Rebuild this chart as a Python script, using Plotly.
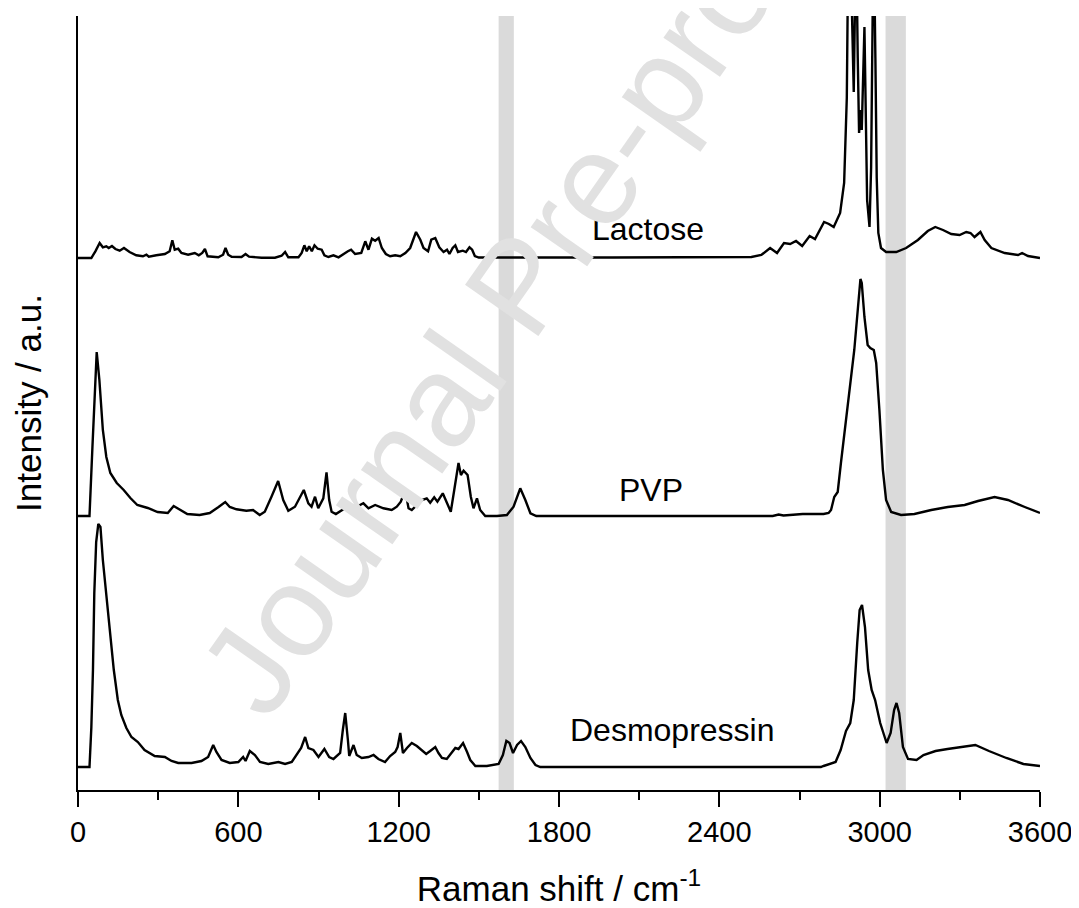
import plotly.graph_objects as go

# ==========================================
# 1. DATOS
# ==========================================

# Lactosa
lac_x = [0, 50, 65, 81, 93, 106, 115, 127, 140, 156, 172, 193, 218, 243, 256, 265, 293, 325, 343, 353,
         362, 375, 387, 412, 437, 452, 465, 475, 485, 525, 543, 552, 562, 575, 612, 627, 640, 687, 737, 762,
         775, 787, 825, 837, 847, 856, 865, 875, 885, 897, 912, 922, 937, 956, 975, 993, 1010, 1022, 1037, 1060,
         1075, 1087, 1100, 1112, 1125, 1137, 1152, 1168, 1187, 1206, 1225, 1243, 1265, 1281, 1293, 1310, 1322, 1337, 1352, 1368,
         1381, 1390, 1402, 1412, 1422, 1440, 1452, 1465, 1475, 1485, 1500, 2000, 2400, 2520, 2557, 2590, 2616, 2642, 2665, 2687,
         2710, 2738, 2758, 2792, 2810, 2828, 2852, 2867, 2877, 2882, 2890, 2897, 2903, 2908, 2913, 2918, 2923, 2928, 2933, 2943,
         2953, 2962, 2968, 2974, 2979, 2984, 2989, 2995, 3005, 3024, 3062, 3099, 3143, 3180, 3208, 3237, 3268, 3299, 3324, 3340,
         3355, 3377, 3393, 3418, 3468, 3518, 3533, 3555, 3600]
lac_y = [0, 0, 6.7, 15, 10.7, 11.7, 10, 12, 9, 7.3, 10, 6, 2.7, 1.7, 3.3, 1.3, 2.7, 4, 6.7, 17.7,
         8.3, 9.3, 5, 3.3, 5, 2.7, 5, 9, 1.7, 0.7, 3.3, 10, 3.3, 1.3, 1, 4, 1.3, 0.3, 0.3, 2.3,
         6, 0.7, 0.7, 5, 12.7, 6.7, 11.7, 6.7, 12.7, 9.3, 8.3, 2.7, 1, 2.7, 0.7, 4, 6.7, 8.3, 4, 5,
         16.7, 8.3, 19.3, 17.3, 20, 10, 4, 1.7, 2.7, 1.7, 5, 10, 26, 18.3, 10, 6.7, 18.3, 20, 10.7, 6,
         8.3, 4, 10, 12.7, 6, 7.3, 6, 10.7, 8.3, 2, 0.5, 0.5, 0.5, 1, 3, 10, 5, 15, 14, 17,
         12, 22, 19, 36, 34, 31, 45, 75, 160, 300, 320, 250, 166, 260, 300, 200, 125, 148, 128, 231,
         58, 31, 91, 250, 300, 200, 80, 25, 10, 6, 6, 10, 18, 27, 31, 28, 24, 23, 26, 25,
         21, 26, 18, 10, 5, 3, 5, 2, 0]

# PVP
pvp_x = [0, 43, 54, 62, 70, 80, 93, 106, 121, 145, 171, 196, 222, 261, 298, 336, 358, 377, 409, 455,
         493, 526, 551, 568, 593, 630, 655, 680, 699, 724, 749, 768, 787, 812, 830, 845, 862, 874, 887, 899,
         918, 930, 940, 949, 965, 990, 1018, 1043, 1068, 1087, 1112, 1143, 1174, 1193, 1208, 1224, 1237, 1249, 1268, 1287,
         1305, 1318, 1333, 1345, 1365, 1380, 1395, 1408, 1424, 1433, 1443, 1458, 1470, 1480, 1493, 1505, 1524, 1568, 1605, 1630,
         1655, 1674, 1693, 1715, 2600, 2622, 2640, 2712, 2790, 2809, 2818, 2830, 2843, 2855, 2874, 2893, 2905, 2918, 2928, 2933,
         2943, 2955, 2965, 2978, 2987, 2999, 3012, 3024, 3043, 3080, 3130, 3193, 3255, 3318, 3368, 3430, 3480, 3543, 3600]
pvp_y = [0, 0, 69, 120, 164, 136, 86, 59, 43, 33, 26, 18, 11, 8, 4, 3, 10, 7, 2, 1,
         3, 9, 14, 9, 6.7, 5.3, 6, 1, 4.3, 19.3, 35, 16, 5.3, 9.3, 19.3, 26, 12.7, 9.3, 19.3, 7.7,
         17.7, 43.7, 16, 4.3, 2, 6, 11, 9.3, 12.7, 7.7, 11, 7.7, 6, 9.3, 14.3, 26, 7.7, 6, 11, 16,
         17.7, 13.3, 18.7, 14.3, 22.7, 12.7, 4.3, 26, 53, 41, 45.3, 41, 19.3, 7.7, 17.7, 6, 0, 0, 1, 9.3,
         27.7, 16, 2.7, 0, 0, 1.5, 0.5, 2, 2, 3, 6, 19, 24, 53, 96, 139, 166, 206, 237, 233,
         199, 171, 168, 166, 153, 106, 46, 16, 4, 1, 2, 6, 9, 11, 15, 19, 16, 9, 3]

# Desmopresina
des_x = [0, 43, 50, 56, 61, 68, 76, 84, 93, 106, 118, 134, 149, 162, 181, 200, 224, 249, 287, 325,
         350, 375, 425, 462, 487, 506, 518, 537, 568, 600, 618, 627, 643, 662, 681, 712, 750, 775, 800, 818,
         835, 850, 862, 881, 900, 922, 940, 956, 981, 991, 1000, 1010, 1015, 1031, 1043, 1062, 1087, 1106, 1124, 1149,
         1168, 1187, 1196, 1206, 1216, 1231, 1249, 1268, 1287, 1303, 1318, 1337, 1349, 1362, 1380, 1399, 1412, 1424, 1441, 1456,
         1468, 1487, 1530, 1574, 1590, 1603, 1615, 1628, 1643, 1658, 1674, 1693, 1712, 1730, 2780, 2790, 2835, 2854, 2874, 2890,
         2903, 2916, 2925, 2934, 2945, 2957, 2970, 2983, 3002, 3026, 3041, 3054, 3063, 3073, 3087, 3106, 3138, 3164, 3209, 3254,
         3306, 3358, 3409, 3474, 3538, 3600]
des_y = [0, 0, 40, 97, 174, 225, 243, 240, 207, 170, 135, 97, 67, 52, 39, 30, 25, 17, 11, 10,
         6, 4, 4, 6, 10, 22, 15, 7, 4, 5, 10, 6, 16, 12, 5, 3, 5, 3, 5, 12,
         19, 30, 19, 17, 10, 18, 10, 8, 14, 37, 54, 27, 11, 22, 12, 9, 10, 12, 8, 5,
         11, 15, 20, 34, 14, 19, 24, 21, 17, 13, 16, 20, 14, 9, 8, 14, 19, 18, 24, 15,
         7, 1, 1, 3, 12, 26, 24, 14, 22, 26, 20, 9, 2, 0, 0, 1, 5, 17, 36, 44,
         67, 124, 157, 162, 140, 97, 77, 67, 44, 24, 34, 57, 64, 54, 20, 8, 7, 12, 16, 18,
         20, 22, 16, 9, 3, 1]

nombres = ['Lactose', 'PVP', 'Desmopressin']
desplazamientos = [532, 274, 23]   # separación vertical de cada espectro
etiquetas_x = [2132, 2143, 2226]
etiquetas_y = [561, 300, 60]

# Bandas grises marcadas
bandas = [(1574, 1631), (3022, 3098)]

# ==========================================
# 2. FIGURA
# ==========================================

fig = go.Figure()

espectros = [(lac_x, lac_y), (pvp_x, pvp_y), (des_x, des_y)]
for (xs, ys), nombre, d in zip(espectros, nombres, desplazamientos):
    fig.add_trace(go.Scatter(x=xs, y=[v + d for v in ys], mode='lines', name=nombre,
                             line=dict(color='black', width=2.4)))

for x0, x1 in bandas:
    fig.add_shape(type='rect', xref='x', yref='paper', x0=x0, x1=x1, y0=0, y1=1,
                  fillcolor='#dadada', line=dict(width=0), layer='below')

for nombre, lx, ly in zip(nombres, etiquetas_x, etiquetas_y):
    fig.add_annotation(x=lx, y=ly, text=nombre, showarrow=False,
                       font=dict(size=32, color='black'))

# marca de agua
fig.add_annotation(xref='paper', yref='paper', x=0.458, y=0.651, text='Journal Pre-proof',
                   showarrow=False, textangle=-55, xanchor='center', yanchor='middle',
                   font=dict(size=130, color='#e1e1e1'))

# la página deja 8 px de margen, se descuentan aquí
fig.update_layout(
    width=1071, height=900,
    margin=dict(l=70, r=39, t=8, b=118),
    plot_bgcolor='white', paper_bgcolor='white',
    showlegend=False,
    font=dict(family='Liberation Sans, Arial, sans-serif', color='black'),
    xaxis=dict(range=[0, 3600], showline=True, linewidth=2, linecolor='black',
               ticks='outside', ticklen=15, tickwidth=2, tickcolor='black',
               tick0=0, dtick=600, showgrid=False, zeroline=False, automargin=False,
               minor=dict(ticks='outside', ticklen=8, tickwidth=2, tickcolor='black', dtick=300),
               tickfont=dict(size=29),
               title=dict(text='Raman shift / cm<sup>-1</sup>', font=dict(size=35), standoff=30)),
    yaxis=dict(range=[0, 774], showline=True, linewidth=2, linecolor='black',
               ticks='', showticklabels=False, showgrid=False, zeroline=False, automargin=False,
               title=dict(text='Intensity / a.u.', font=dict(size=35), standoff=24)),
)

fig.write_html('out.html')
